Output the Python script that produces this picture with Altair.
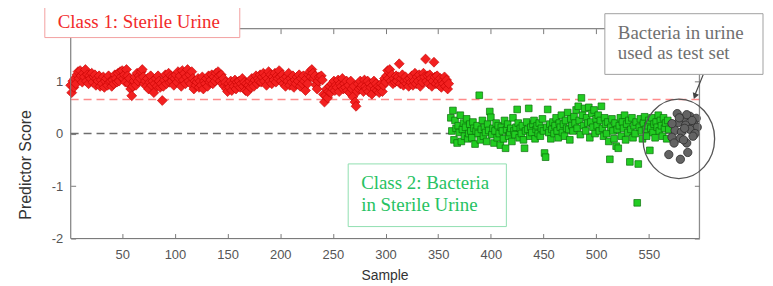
import altair as alt
import pandas as pd

# ---------------- data ----------------
red_values = [
    0.92, 0.78, 1.0, 0.88, 1.05, 0.95, 1.12, 1.18, 1.05, 1.2, 1.1, 0.98, 1.15, 1.08, 1.22, 1.0, 1.12, 0.95, 1.1, 1.05,
    1.15, 0.98, 1.08, 1.12, 0.92, 1.05, 1.0, 1.1, 0.9, 1.02, 0.95, 1.08, 0.88, 1.0, 1.05, 0.92, 1.1, 0.98, 1.0, 0.9,
    1.02, 0.95, 1.12, 1.05, 0.98, 1.15, 1.0, 1.18, 1.08, 1.2, 1.05, 1.12, 0.98, 1.22, 1.1, 0.95, 1.05, 0.85, 0.72, 0.9,
    1.0, 1.08, 0.92, 1.15, 1.0, 1.1, 1.05, 1.18, 1.22, 1.08, 0.95, 1.0, 0.9, 1.05, 0.85, 0.98, 1.1, 0.92, 1.0, 0.78,
    0.95, 1.05, 0.9, 1.1, 1.0, 0.88, 0.95, 0.63, 0.9, 1.02, 1.12, 0.95, 1.05, 1.15, 0.98, 1.1, 1.0, 1.08, 0.92, 1.05,
    1.12, 0.98, 1.18, 1.05, 1.1, 0.9, 1.2, 1.02, 1.15, 0.95, 1.08, 1.22, 1.0, 1.12, 0.95, 1.18, 1.05, 0.85, 1.0, 0.92,
    0.98, 1.05, 0.88, 1.0, 0.92, 1.08, 0.85, 1.0, 0.95, 1.05, 0.9, 1.1, 0.98, 1.02, 1.12, 0.95, 1.08, 1.0, 1.15, 1.05,
    1.18, 1.1, 1.0, 1.12, 0.95, 1.05, 0.9, 0.98, 0.85, 0.8, 0.95, 0.88, 1.0, 0.82, 0.95, 0.9, 1.02, 0.85, 0.98, 0.92,
    1.0, 0.88, 0.95, 1.05, 0.9, 0.98, 0.82, 0.95, 0.8, 0.92, 1.0, 0.88, 1.05, 0.95, 0.9, 1.02, 1.1, 0.95, 1.05, 1.0,
    1.12, 0.98, 1.08, 1.15, 1.0, 1.1, 0.92, 1.05, 1.18, 1.0, 1.12, 0.95, 1.08, 1.02, 1.15, 0.98, 1.1, 1.05, 1.2, 1.08,
    1.0, 1.12, 0.95, 1.05, 0.9, 1.08, 1.0, 1.15, 0.92, 1.05, 0.98, 1.1, 0.88, 1.02, 0.95, 1.08, 1.0, 1.12, 0.9, 1.05,
    0.95, 1.1, 1.0, 0.82, 1.05, 0.95, 1.12, 1.18, 1.08, 1.22, 1.15, 1.05, 1.1, 0.92, 0.85, 1.0, 1.08, 1.05, 1.1, 1.02,
    0.75, 0.6, 0.72, 0.85, 0.68, 0.8, 0.9, 0.78, 0.95, 0.85, 1.0, 0.82, 0.92, 0.88, 1.02, 0.8, 0.95, 0.9, 1.05, 0.85,
    0.95, 0.88, 1.0, 0.82, 0.92, 0.78, 1.0, 0.85, 0.7, 0.9, 0.6, 0.52, 0.8, 0.95, 0.85, 1.0, 0.88, 0.92, 0.8, 1.02,
    0.9, 0.85, 1.0, 0.8, 0.95, 0.88, 0.75, 0.92, 1.0, 0.85, 0.95, 0.82, 0.9, 0.78, 0.88, 0.95, 0.8, 0.92, 1.05, 0.98,
    1.1, 1.2, 1.05, 1.22, 1.0, 1.12, 0.95, 1.05, 0.98, 1.1, 1.0, 1.08, 1.33, 0.95, 1.05, 1.12, 0.92, 1.0, 1.08, 0.95,
    1.02, 0.9, 1.05, 0.98, 1.1, 0.92, 1.0, 1.15, 0.95, 1.08, 1.0, 1.12, 0.9, 1.05, 0.98, 1.15, 1.08, 1.42, 1.0, 1.1,
    0.95, 1.12, 1.05, 0.9, 1.0, 1.36, 1.08, 0.95, 1.1, 1.0, 0.92, 1.05, 0.88, 1.0, 0.95, 1.08, 0.9, 1.02, 0.85, 0.95,
]
red_start = 1

green_values = [
    0.3, 0.05, 0.44, -0.12, 0.25, 0.1, -0.18, 0.15, 0.02, 0.35, -0.15, 0.08, 0.2, -0.05, 0.12, 0.28, -0.1, 0.0, 0.18, 0.05,
    -0.08, 0.22, 0.1, -0.2, 0.05, 0.15, 0.0, 0.73, -0.12, 0.08, 0.25, -0.05, 0.12, 0.02, -0.15, 0.18, 0.06, 0.42, 0.31, -0.02,
    0.1, -0.18, 0.05, 0.2, -0.08, 0.15, 0.0, -0.22, 0.12, 0.05, -0.1, 0.25, -0.28, 0.08, 0.18, -0.05, 0.02, 0.1, -0.15, 0.3,
    0.05, -0.02, 0.12, 0.46, 0.2, -0.08, 0.1, 0.0, 0.15, -0.12, -0.28, 0.05, 0.22, 0.08, 0.48, -0.05, 0.12, 0.02, 0.18, 0.25,
    -0.1, 0.08, 0.15, 0.0, 0.2, -0.05, 0.1, 0.28, 0.05, -0.37, -0.45, 0.12, 0.46, 0.02, 0.18, -0.1, 0.08, 0.22, 0.0, 0.15,
    0.3, 0.05, -0.08, 0.2, 0.12, 0.35, 0.02, 0.18, -0.05, 0.25, 0.1, 0.4, 0.08, -0.12, 0.28, 0.15, 0.05, 0.32, 0.2, 0.45,
    0.1, 0.52, 0.25, -0.02, 0.68, 0.35, 0.15, 0.48, 0.05, 0.3, 0.2, 0.5, -0.08, 0.22, 0.38, 0.12, 0.45, 0.0, 0.28, 0.15,
    0.35, 0.05, 0.25, 0.52, 0.1, -0.05, 0.3, 0.18, 0.0, 0.22, -0.15, -0.49, 0.12, 0.28, 0.05, -0.1, 0.2, -0.24, 0.08, -0.28,
    0.15, 0.3, -0.05, 0.22, 0.1, 0.35, -0.12, 0.18, 0.02, 0.25, -0.54, 0.08, 0.3, -0.08, 0.15, 0.0, 0.22, -1.32, -0.58, 0.12,
    0.28, 0.05, -0.1, 0.2, 0.32, 0.08, -0.05, 0.15, 0.25, -0.32, 0.1, 0.3, 0.02, 0.18, -0.08, 0.22, 0.12, 0.35, 0.05, 0.25,
    0.15, -0.05, 0.3, 0.1, 0.2, -0.1, 0.25, 0.08,
]
green_start = 362

gray_samples = [577, 583, 589, 595, 578, 585, 593, 596, 575, 581, 589, 594, 572, 580, 574, 586,
                583, 569, 580, 587, 591, 572, 586, 592, 579, 584]
gray_values = [0.38, 0.29, 0.33, 0.29, 0.21, 0.16, 0.18, 0.12, 0.06, 0.03, 0.08, 0.0, -0.07, -0.09, -0.18, -0.18,
               -0.12, -0.4, -0.49, -0.36, 0.25, 0.19, 0.36, -0.05, 0.3, 0.1]

x_ticks = [50, 100, 150, 200, 250, 300, 350, 400, 450, 500, 550]
y_ticks = [-2, -1, 0, 1]
thresholds = [0.65, 0.0]
threshold_colors = ["#ff8a8a", "#6e6e6e"]

X_DOMAIN = [1, 598]
Y_DOMAIN = [-2, 2]

# ---------------- tables ----------------
red_df = pd.DataFrame({"sample": list(range(red_start, red_start + len(red_values))), "score": red_values})
green_df = pd.DataFrame({"sample": list(range(green_start, green_start + len(green_values))), "score": green_values})
gray_df = pd.DataFrame({"sample": gray_samples, "score": gray_values})
thr_df = pd.DataFrame({"value": thresholds, "color": threshold_colors})
frame_df = pd.DataFrame({"x0": [X_DOMAIN[0]], "x1": [X_DOMAIN[1]], "y0": [Y_DOMAIN[0]], "y1": [Y_DOMAIN[1]]})
ellipse_df = pd.DataFrame({"sample": [578.5], "score": [-0.1]})
one = pd.DataFrame({"k": [0]})

W, H = 632, 211
AX = "#7a7a7a"
LAB = "#555555"
SANS = "Liberation Sans"
SERIF = "Liberation Serif"

xs = alt.Scale(domain=X_DOMAIN, nice=False, zero=False)
ys = alt.Scale(domain=Y_DOMAIN, nice=False, zero=False)

common_axis = dict(offset=-5, tickSize=5, domain=False, grid=False, title=None,
                   tickColor=AX, tickWidth=1, labelFont=SANS, labelFontSize=13, labelColor=LAB)

x_bottom = alt.Axis(orient="bottom", values=x_ticks, labelPadding=10, **common_axis)
y_left = alt.Axis(orient="left", values=y_ticks, labelPadding=8,
                  labelExpr="replace(datum.label, '\u2212', '-')", **common_axis)
x_top = alt.Axis(orient="top", values=x_ticks, labels=False, **common_axis)
y_right = alt.Axis(orient="right", values=y_ticks, labels=False, **common_axis)

rules = alt.Chart(thr_df).mark_rule(strokeDash=[8, 5], strokeWidth=1.5).encode(
    y=alt.Y("value:Q", scale=ys, axis=None),
    color=alt.Color("color:N", scale=None),
)

red = alt.Chart(red_df).mark_point(shape="diamond", filled=True, size=100, fill="#f22020",
                                   stroke="#c40000", strokeWidth=0.6, opacity=1).encode(
    x=alt.X("sample:Q", scale=xs, axis=x_bottom),
    y=alt.Y("score:Q", scale=ys, axis=y_left),
)

green = alt.Chart(green_df).mark_point(shape="square", filled=True, size=45, fill="#22cc22",
                                       stroke="#0b700b", strokeWidth=0.7, opacity=1).encode(
    x=alt.X("sample:Q", scale=xs, axis=x_top),
    y=alt.Y("score:Q", scale=ys, axis=y_right),
)

gray = alt.Chart(gray_df).mark_point(shape="circle", filled=True, size=70, fill="#636363",
                                     stroke="#2e2e2e", strokeWidth=0.8, opacity=1).encode(
    x=alt.X("sample:Q", scale=xs, axis=None),
    y=alt.Y("score:Q", scale=ys, axis=None),
)

frame = alt.Chart(frame_df).mark_rect(fillOpacity=0, stroke=AX, strokeWidth=1).encode(
    x=alt.X("x0:Q", scale=xs, axis=None), x2="x1:Q",
    y=alt.Y("y0:Q", scale=ys, axis=None), y2="y1:Q",
)

# ellipse around the test set
ellipse = alt.Chart(ellipse_df).mark_point(
    shape="M -1 0 A 1 1.11 0 1 0 1 0 A 1 1.11 0 1 0 -1 0 Z",
    filled=False, size=5184, stroke="#555555", strokeWidth=1.3, opacity=1,
).encode(x=alt.X("sample:Q", scale=xs, axis=None), y=alt.Y("score:Q", scale=ys, axis=None))

arrow = alt.Chart(one).mark_rule(stroke="#444444", strokeWidth=1.2).encode(
    x=alt.value(636), y=alt.value(46), x2=alt.value(627), y2=alt.value(68))
arrow_head = alt.Chart(one).mark_point(shape="triangle-down", filled=True, size=45, color="#444444",
                                       opacity=1, angle=21).encode(x=alt.value(627.5), y=alt.value(68))

def box(x1, y1, x2, y2, stroke):
    return alt.Chart(one).mark_rect(fill="white", stroke=stroke, strokeWidth=1).encode(
        x=alt.value(x1), x2=alt.value(x2), y=alt.value(y1), y2=alt.value(y2))

def label(txt, x, y, color, size=19, font=SERIF, angle=0, align="left"):
    return alt.Chart(one).mark_text(text=txt, font=font, fontSize=size, color=color, align=align,
                                    baseline="middle", angle=angle).encode(x=alt.value(x), y=alt.value(y))

annotations = [
    box(-26, -23, 170, 9, "#f3a0a0"),
    label("Class 1: Sterile Urine", -13, -7, "#f22a2a"),
    box(279, 136, 438, 199, "#90dfb0"),
    label("Class 2: Bacteria", 292, 155, "#26c262"),
    label("in Sterile Urine", 292, 177, "#26c262"),
    box(537, -15, 696, 46, "#a0a0a0"),
    label("Bacteria in urine", 550, 4, "#707070"),
    label("used as test set", 550, 25, "#707070"),
    label("Sample", 316, 249, "#333333", size=14, font=SANS, align="center"),
    label("Predictor Score", -45, 137, "#333333", size=16, font=SANS, angle=270, align="center"),
]

chart = alt.layer(rules, red, green, gray, frame, ellipse, arrow, arrow_head, *annotations).resolve_axis(
    x="independent", y="independent"
).properties(
    width=W, height=H,
    autosize=alt.AutoSizeParams(type="none"),
    padding={"left": 63, "top": 20, "right": 66, "bottom": 46},
).configure_view(stroke=None).configure(background="white")

chart.save("out.html", embed_options={"renderer": "svg", "actions": False})
